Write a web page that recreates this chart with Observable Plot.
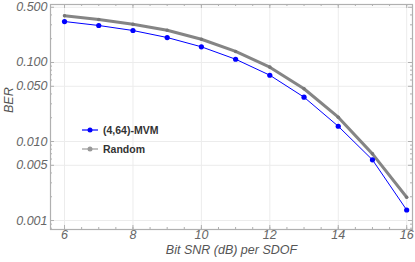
<!DOCTYPE html>
<html>
<head>
<meta charset="utf-8">
<script src="https://cdn.jsdelivr.net/npm/d3@7"></script>
<script src="https://cdn.jsdelivr.net/npm/@observablehq/plot@0.6"></script>
<style>
  html, body { margin: 0; padding: 0; background: #fff; }
  #wrap { position: relative; width: 415px; height: 262px; }
  #legend { position: absolute; left: 82px; top: 120px; font-family: "Liberation Sans", Arial, sans-serif; font-weight: bold; font-size: 10.5px; color: #333; }
  .row { display: flex; align-items: center; height: 19px; }
  .row svg { margin-right: 5px; }
</style>
</head>
<body>
<div id="wrap"></div>
<script>
const snr = [6, 7, 8, 9, 10, 11, 12, 13, 14, 15, 16];
const berMVM = [0.330, 0.294, 0.254, 0.207, 0.158, 0.110, 0.069, 0.0364, 0.0156, 0.00586, 0.00136];
const berRandom = [0.390, 0.350, 0.305, 0.256, 0.197, 0.138, 0.0873, 0.0465, 0.0203, 0.00698, 0.00197];
const seriesNames = ["(4,64)-MVM", "Random"];
const xTicks = [6, 8, 10, 12, 14, 16];
const yTicks = [0.001, 0.005, 0.01, 0.05, 0.1, 0.5];
const yTickLabels = ["0.001", "0.005", "0.010", "0.050", "0.100", "0.500"];
const xLabel = "Bit SNR (dB) per SDOF";
const yLabel = "BER";

const mvm = snr.map((x, i) => ({x, y: berMVM[i]}));
const rnd = snr.map((x, i) => ({x, y: berRandom[i]}));
const yLab = yTicks.map((y, i) => ({y, label: yTickLabels[i]}));
const minorX = d3.range(12, 33).map(v => v / 2);
const minorY = [];
for (let e = -4; e <= 0; e++) for (let m = 1; m <= 9; m++) {
  const v = m * Math.pow(10, e);
  if (v > 0.00077 && v < 0.542 && !yTicks.some(t => Math.abs(t - v) < 1e-12)) minorY.push(v);
}

const W = 415, H = 262, ML = 50, MR = 3, MT = 4, MB = 33;
const FW = W - ML - MR, FH = H - MT - MB;
const frameCol = "#b0b0b0";
const txt = {fontFamily: "Liberation Sans, Arial, sans-serif", fill: "#666", fontStyle: "italic"};

const chart = Plot.plot({
  width: W, height: H,
  marginLeft: ML, marginRight: MR, marginTop: MT, marginBottom: MB,
  style: {fontFamily: "Liberation Sans, Arial, sans-serif", fontSize: "12px", background: "#fff"},
  x: {domain: [5.59, 16.17], axis: null},
  y: {type: "log", domain: [0.00077, 0.542], axis: null},
  marks: [
    Plot.gridX(xTicks, {stroke: "#ececec", strokeOpacity: 1}),
    Plot.gridY(yTicks, {stroke: "#ececec", strokeOpacity: 1}),
    // minor ticks
    Plot.tickX(minorX, {insetTop: FH - 2, stroke: frameCol}),
    Plot.tickX(minorX, {insetBottom: FH - 2, stroke: frameCol}),
    Plot.tickY(minorY, {insetRight: FW - 2, stroke: frameCol}),
    Plot.tickY(minorY, {insetLeft: FW - 2, stroke: frameCol}),
    // major ticks
    Plot.tickX(xTicks, {insetTop: FH - 4, stroke: frameCol}),
    Plot.tickX(xTicks, {insetBottom: FH - 4, stroke: frameCol}),
    Plot.tickY(yTicks, {insetRight: FW - 4, stroke: frameCol}),
    Plot.tickY(yTicks, {insetLeft: FW - 4, stroke: frameCol}),
    Plot.frame({stroke: frameCol, strokeWidth: 1.2}),
    Plot.text(xTicks, {x: d => d, text: d => String(d), frameAnchor: "bottom", lineAnchor: "top", dy: 1, fontSize: 12.5, ...txt}),
    Plot.text(yLab, {y: "y", text: "label", frameAnchor: "left", textAnchor: "end", dx: -3, fontSize: 12.5, ...txt}),
    Plot.line(rnd, {x: "x", y: "y", stroke: "#858585", strokeWidth: 3}),
    Plot.dot(rnd, {x: "x", y: "y", r: 1.8, fill: "#777"}),
    Plot.line(mvm, {x: "x", y: "y", stroke: "#0000ff", strokeWidth: 1}),
    Plot.dot(mvm, {x: "x", y: "y", r: 2.6, fill: "#0000ff"}),
    Plot.text([xLabel], {frameAnchor: "bottom", dy: 24.5, fontSize: 12.5, ...txt, fill: "#555"}),
    Plot.text([yLabel], {frameAnchor: "left", dx: -42, dy: -4, rotate: -90, fontSize: 12.5, ...txt, fill: "#555"})
  ]
});
const wrap = document.getElementById("wrap");
wrap.appendChild(chart);

const legend = document.createElement("div");
legend.id = "legend";
const swatches = [
  {color: "#0000ff", w: 1.2, r: 2.5},
  {color: "#999", w: 1.2, r: 2.5}
];
seriesNames.forEach((name, i) => {
  const row = document.createElement("div");
  row.className = "row";
  const s = swatches[i];
  row.innerHTML = `<svg width="16" height="8"><line x1="0" y1="4" x2="16" y2="4" stroke="${s.color}" stroke-width="${s.w}"/><circle cx="8" cy="4" r="${s.r}" fill="${s.color}"/></svg><span>${name}</span>`;
  legend.appendChild(row);
});
wrap.appendChild(legend);
</script>
</body>
</html>
